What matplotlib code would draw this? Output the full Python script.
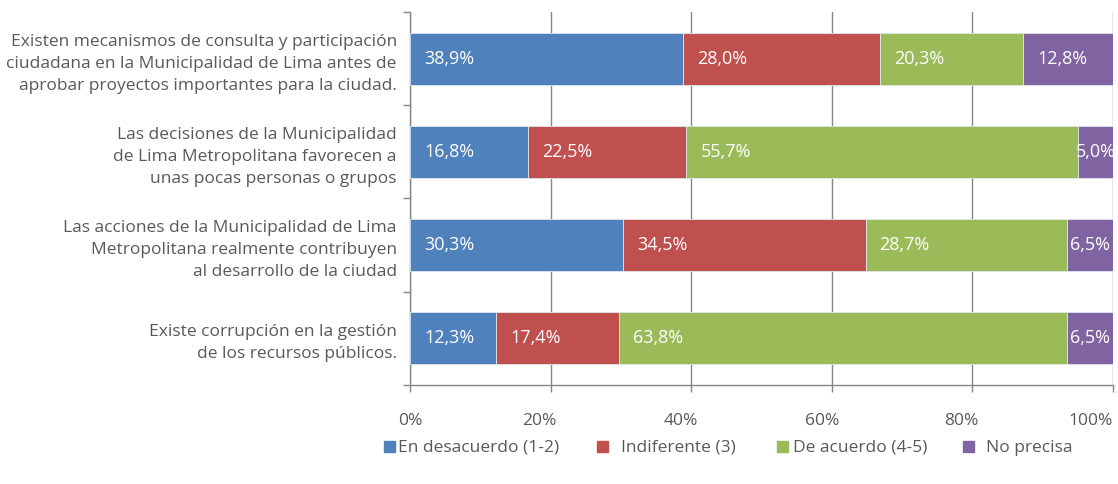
import matplotlib
matplotlib.use("Agg")
import matplotlib.pyplot as plt
import matplotlib.transforms as mtransforms
from matplotlib.patches import Rectangle
import numpy as np

plt.rcParams['font.family'] = ['Open Sans', 'DejaVu Sans']

# Data (top row first)
preguntas = [
    "Existen mecanismos de consulta y participación\nciudadana en la Municipalidad de Lima antes de\naprobar proyectos importantes para la ciudad.",
    "Las decisiones de la Municipalidad\nde Lima Metropolitana favorecen a\nunas pocas personas o grupos",
    "Las acciones de la Municipalidad de Lima\nMetropolitana realmente contribuyen\nal desarrollo de la ciudad",
    "Existe corrupción en la gestión\nde los recursos públicos.",
]
series = ["En desacuerdo (1-2)", "Indiferente (3)", "De acuerdo (4-5)", "No precisa"]
en_desacuerdo = [38.9, 16.8, 30.3, 12.3]
indiferente = [28.0, 22.5, 34.5, 17.4]
de_acuerdo = [20.3, 55.7, 28.7, 63.8]
no_precisa = [12.8, 5.0, 6.5, 6.5]
x_ticks = [0, 20, 40, 60, 80, 100]

colores = ["#4F81BD", "#C0504D", "#9BBB59", "#8064A2"]
gris = "#595959"

fig = plt.figure(figsize=(11.18, 4.84), dpi=100)
ax = fig.add_axes([410 / 1118, 1 - 385 / 484, 703 / 1118, 373 / 484])

ypos = np.arange(len(preguntas))[::-1]
left = np.zeros(len(preguntas))
px_per_unit = 703 / 100
for vals, col in zip([en_desacuerdo, indiferente, de_acuerdo, no_precisa], colores):
    vals = np.array(vals)
    ax.barh(ypos, vals, left=left, height=0.56, color=col,
            edgecolor="#dfe6ee", linewidth=0.6, zorder=3)
    for y, l, v in zip(ypos, left, vals):
        txt = f"{v:.1f}%".replace(".", ",")
        if v * px_per_unit < 50:
            ax.text(l + v / 2, y, txt, ha="center", va="center",
                    color="white", fontsize=13, zorder=4)
        else:
            ax.text(l + 2.0, y, txt, ha="left", va="center",
                    color="white", fontsize=13, zorder=4)
    left = left + vals

ax.set_xlim(0, 100)
ax.set_ylim(-0.5, len(preguntas) - 0.5)
ax.set_xticks(x_ticks)
ax.set_xticklabels([f"{t}%" for t in x_ticks], color=gris, fontsize=12.5)
ax.tick_params(axis="x", length=5, width=1, color="#868686", pad=15.5)
ax.grid(axis="x", color="#868686", linewidth=1, zorder=0)
# labels sit a little left of their ticks in the original
shifts = [0, -11, -10, -10, -11, -22]
for lab, dx in zip(ax.get_xticklabels(), shifts):
    lab.set_transform(lab.get_transform() +
                      mtransforms.ScaledTranslation(dx / 100, 0, fig.dpi_scale_trans))

ax.set_yticks(ypos)
ax.set_yticklabels(preguntas, color=gris, fontsize=12.5, linespacing=1.5)
ax.tick_params(axis="y", length=0, pad=9.5)
ax.set_yticks(np.arange(-0.5, len(preguntas)), minor=True)
ax.tick_params(axis="y", which="minor", length=5, width=1, color="#868686")

for s in ["top", "right"]:
    ax.spines[s].set_visible(False)
for s in ["left", "bottom"]:
    ax.spines[s].set_color("#868686")
    ax.spines[s].set_linewidth(1)

# Legend at the bottom
leg_sq = [384, 597, 777, 963]
leg_tx = [398, 621, 793, 986]
leg_base = 452
for sq, tx, col, name in zip(leg_sq, leg_tx, colores, series):
    fig.patches.append(Rectangle((sq / 1118, 1 - leg_base / 484), 11 / 1118, 11 / 484,
                                 transform=fig.transFigure, color=col))
    fig.text(tx / 1118, 1 - leg_base / 484, name, ha="left", va="baseline",
             color=gris, fontsize=12.5)

fig.savefig("out.png", dpi=100)
